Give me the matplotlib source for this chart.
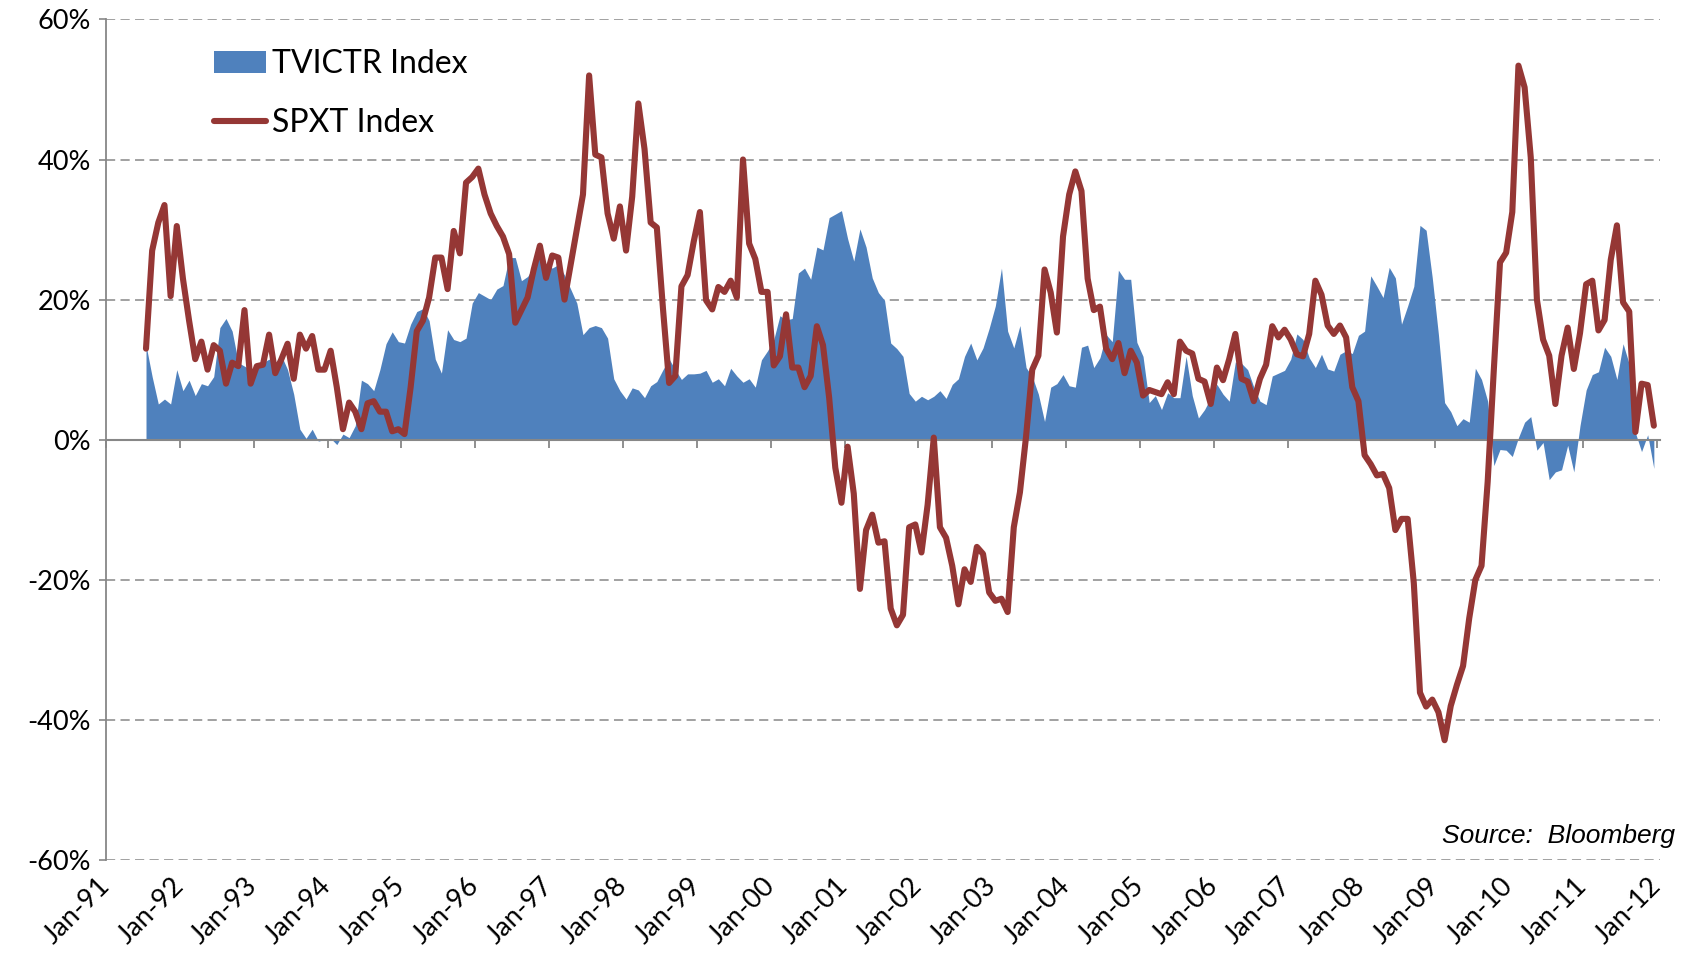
import matplotlib
matplotlib.use("Agg")
import matplotlib.pyplot as plt
import pandas as pd
import numpy as np

# ---------------- data (monthly YoY %) ----------------
first_month = "1991-07"
tick_years = list(range(1991, 2013))

spxt = [
    13, 27, 31, 33.5, 20.5, 30.5,                                   # Jul-91..Dec-91
    23, 17, 11.5, 14, 10, 13.5, 12.7, 8, 11, 10.5, 18.5, 8,          # 1992
    10.5, 10.7, 15, 9.5, 11.5, 13.7, 8.7, 15, 13, 14.8, 10, 10,      # 1993
    12.7, 7.5, 1.5, 5.3, 4, 1.5, 5.2, 5.5, 4, 4, 1.2, 1.5,           # 1994
    0.8, 7.5, 15.5, 17, 20.3, 26, 26, 21.5, 29.8, 26.6, 36.7, 37.5,  # 1995
    38.7, 35, 32.3, 30.5, 29, 26.5, 16.7, 18.5, 20.3, 24.3, 27.7, 23.1,  # 1996
    26.3, 26, 20, 25, 30, 35, 52, 40.7, 40.3, 32.3, 28.7, 33.3,      # 1997
    27, 34.7, 48, 41.5, 31, 30.3, 18.7, 8.1, 9.1, 21.9, 23.5, 28.3,  # 1998
    32.5, 19.9, 18.6, 21.8, 21.1, 22.7, 20.3, 40, 28, 25.8, 21.1, 21.1,  # 1999
    10.6, 11.9, 17.9, 10.3, 10.3, 7.5, 9.1, 16.2, 13.5, 6, -4, -9,   # 2000
    -1, -7.7, -21.3, -12.9, -10.7, -14.7, -14.5, -24.1, -26.5, -25, -12.5, -12.1,  # 2001
    -16.1, -9.3, 0.3, -12.5, -14, -18, -23.5, -18.5, -20.3, -15.3, -16.3, -21.8,  # 2002
    -23, -22.7, -24.6, -12.5, -7.5, 0.5, 10, 12, 24.3, 21, 15.3, 29,  # 2003
    35, 38.3, 35.5, 23, 18.5, 19, 13, 11.5, 13.8, 9.5, 12.7, 11,     # 2004
    6.3, 7.1, 6.8, 6.5, 8.2, 6.5, 14, 12.7, 12.3, 8.7, 8.3, 5.1,     # 2005
    10.3, 8.5, 11.5, 15.1, 8.7, 8.3, 5.5, 8.7, 10.7, 16.2, 14.6, 15.7,  # 2006
    14.3, 12.2, 11.9, 15.1, 22.7, 20.7, 16.3, 15.1, 16.3, 14.6, 7.5, 5.5,  # 2007
    -2.2, -3.5, -5.1, -4.9, -6.9, -12.9, -11.3, -11.3, -20.5, -36.1, -38.1, -37.1,  # 2008
    -38.9, -42.9, -38, -35, -32.3, -25.5, -20, -18, -6, 10, 25.3, 26.7,  # 2009
    32.5, 53.4, 50.3, 40.3, 20, 14.3, 12, 5.1, 12, 16, 10.1, 15.2,   # 2010
    22.2, 22.7, 15.6, 17.1, 25.7, 30.6, 19.6, 18.3, 1.1, 8, 7.8, 2,  # 2011
]

tvictr = [
    13.5, 9, 5.1, 5.8, 5.1, 10,                                       # Jul-91..Dec-91
    7, 8.5, 6.3, 8, 7.7, 9, 16, 17.3, 15.5, 11, 10.5, 10,             # 1992
    10.5, 11, 11.5, 11, 12, 10, 6.5, 1.5, 0.2, 1.5, -0.2, 0,          # 1993
    0.2, -0.7, 0.8, 0.3, 2, 8.5, 8, 7, 10, 13.7, 15.4, 14,            # 1994
    13.8, 16.5, 18.3, 18.7, 17, 11.5, 9.5, 15.7, 14.3, 14, 14.5, 19.5,  # 1995
    21, 20.5, 20, 21.5, 22, 26, 26, 22.7, 23.3, 24.7, 26.3, 25,       # 1996
    24.5, 25, 23.5, 21.5, 19.5, 15, 16, 16.3, 16, 14.5, 8.7, 7,       # 1997
    5.8, 7.4, 7.1, 6, 7.7, 8.3, 10, 11.5, 10, 8.6, 9.4, 9.4,          # 1998
    9.5, 9.9, 8.2, 8.7, 7.7, 10.2, 9.1, 8.2, 8.7, 7.5, 11.4, 12.7,    # 1999
    14.3, 17.7, 17.1, 17.3, 23.8, 24.5, 22.9, 27.5, 27.1, 31.7, 32.2, 32.7,  # 2000
    28.7, 25.5, 30.1, 27.5, 23.1, 21, 19.9, 13.8, 13, 11.9, 6.6, 5.5,  # 2001
    6.2, 5.7, 6.2, 7, 5.9, 7.9, 8.7, 11.9, 13.8, 11.4, 13.1, 15.9,    # 2002
    19.1, 24.5, 15.5, 13.1, 16.3, 10.3, 9, 6.5, 2.6, 7.5, 8, 9.3,     # 2003
    7.7, 7.5, 13.2, 13.5, 10.3, 11.7, 15, 14, 24.2, 22.9, 22.9, 13.9,  # 2004
    11.9, 5.3, 6.3, 4.3, 6.7, 6, 6, 11.9, 6.3, 3.1, 4.3, 6,           # 2005
    7.9, 6.5, 5.5, 11.1, 10.9, 10, 7.5, 5.5, 5, 9.1, 9.5, 9.9,        # 2006
    11.5, 15.1, 14.3, 11.7, 10.3, 12.2, 10.1, 9.8, 12.2, 12.7, 12.3, 14.9,  # 2007
    15.5, 23.4, 21.9, 20.3, 24.6, 23.1, 16.5, 19.1, 21.9, 30.6, 29.9, 23.1,  # 2008
    15, 5.3, 4, 2, 3, 2.5, 10.2, 8.6, 5.5, -3.7, -1.4, -1.5,          # 2009
    -2.4, 0.3, 2.5, 3.3, -1.5, -0.4, -5.7, -4.6, -4.3, -0.8, -4.6, 2,  # 2010
    7.1, 9.3, 9.7, 13.2, 11.9, 8.6, 13.7, 10.8, 1, -1.7, 0.7, -4.1,   # 2011
]

series_names = ["TVICTR Index", "SPXT Index"]
y_ticks = [-60, -40, -20, 0, 20, 40, 60]

# ---------------- positions from dates ----------------
months = pd.period_range(first_month, periods=len(spxt), freq="M")
x = np.array([(p.year - 1991) * 12 + (p.month - 1) + 0.5 for p in months])
tick_pos = [(yr - 1991) * 12 for yr in tick_years]
tick_lab = [f"Jan-{yr % 100:02d}" for yr in tick_years]

# ---------------- style ----------------
BLUE = "#4F81BD"
RED = "#953735"
GRAY = "#878787"
plt.rcParams["font.family"] = ["Lato", "DejaVu Sans"]

W, H = 1686, 966
fig = plt.figure(figsize=(W / 100, H / 100), dpi=100)
ax_l, ax_r, ax_t, ax_b = 106, 1660, 19.4, 860
ax = fig.add_axes([ax_l / W, 1 - ax_b / H, (ax_r - ax_l) / W, (ax_b - ax_t) / H])

ax.fill_between(x, 0, tvictr, color=BLUE, linewidth=0, zorder=1,
                label=series_names[0])
ax.plot(x, spxt, color=RED, lw=4.4, solid_capstyle="round",
        solid_joinstyle="round", zorder=3, label=series_names[1])

ax.set_xlim(0, 252.5)
ax.set_ylim(-60, 60)

# grid
ax.set_axisbelow(True)
ax.yaxis.grid(True, linestyle=(0, (6, 3.5)), color=GRAY, lw=1.1)
ax.xaxis.grid(False)

# spines
for s in ("top", "right"):
    ax.spines[s].set_visible(False)
ax.spines["left"].set_color(GRAY)
ax.spines["left"].set_linewidth(1.3)
ax.spines["bottom"].set_position(("data", 0))
ax.spines["bottom"].set_color(GRAY)
ax.spines["bottom"].set_linewidth(1.5)
ax.spines["bottom"].set_zorder(2.5)

# y ticks
ax.set_yticks(y_ticks)
ax.set_yticklabels([f"{v}%" for v in y_ticks])
ax.tick_params(axis="y", direction="out", length=5, width=1.2, color=GRAY,
               labelsize=19.5, pad=6)

# x ticks on the zero line (marks only)
ax.set_xticks(tick_pos)
ax.tick_params(axis="x", direction="out", length=6, width=1.3, color=GRAY,
               labelbottom=False)

# x labels at the bottom via secondary axis
sec = ax.secondary_xaxis("bottom")
sec.set_xticks(tick_pos)
sec.set_xticklabels(tick_lab)
sec.spines["bottom"].set_visible(False)
sec.tick_params(axis="x", length=0, pad=16, labelsize=19.5)
for lab in sec.get_xticklabels():
    lab.set_rotation(45)
    lab.set_ha("right")
    lab.set_va("center")
    lab.set_rotation_mode("anchor")

# legend
leg = ax.legend(loc="upper left",
                bbox_to_anchor=((214 - ax_l) / (ax_r - ax_l), 1 - (49 - ax_t) / (ax_b - ax_t)),
                frameon=False, fontsize=23, handlelength=1.62, handleheight=0.68,
                handletextpad=0.18, labelspacing=0.9, borderpad=0, borderaxespad=0)

# source note
fig.text(1675 / W, 1 - 836 / H, "Source:  Bloomberg",
         ha="right", va="center", fontsize=19,
         style="italic", family=["Liberation Sans", "DejaVu Sans"])

fig.savefig("out.png", dpi=100)
